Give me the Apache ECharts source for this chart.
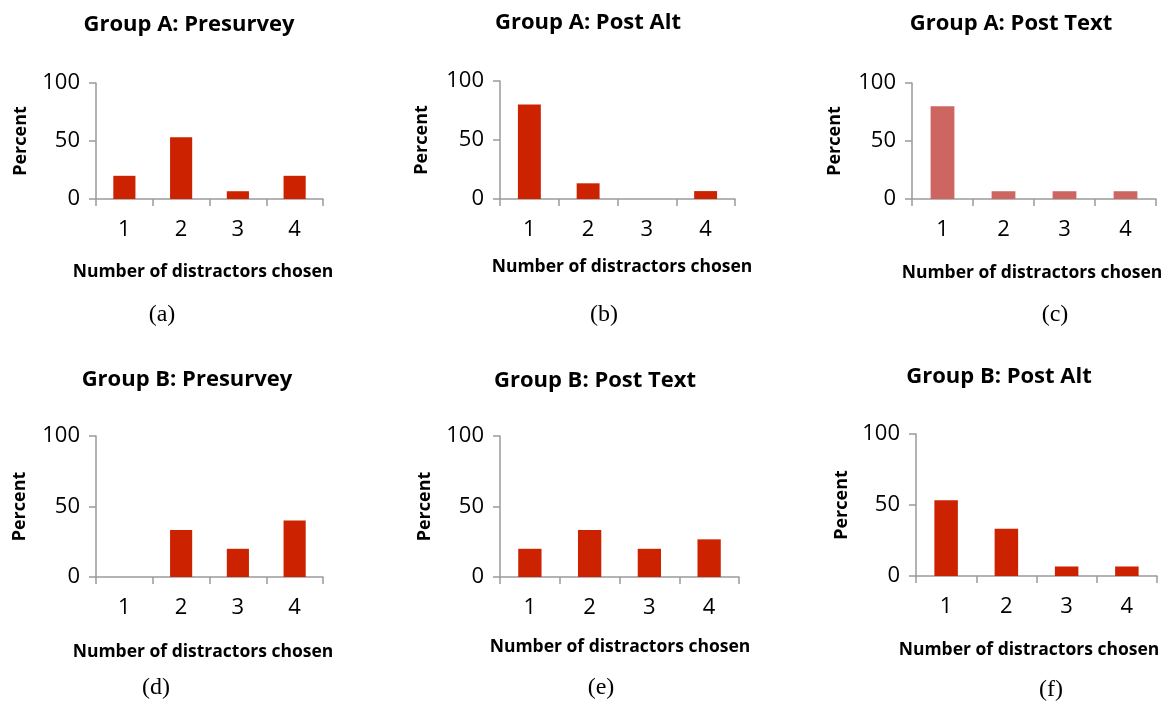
<!DOCTYPE html>
<html>
<head>
<meta charset="utf-8">
<script src="https://cdn.jsdelivr.net/npm/echarts@6/dist/echarts.min.js"></script>
<style>
html,body{margin:0;padding:0;background:#fff;}
#chart{width:1164px;height:702px;}
</style>
</head>
<body>
<div id="chart"></div>
<script>
// ---- data ----
const categories = ['1', '2', '3', '4'];
const yTicks = [0, 50, 100];
const panelTitles = ['Group A: Presurvey', 'Group A: Post Alt', 'Group A: Post Text',
                     'Group B: Presurvey', 'Group B: Post Text', 'Group B: Post Alt'];
const panelLetters = ['(a)', '(b)', '(c)', '(d)', '(e)', '(f)'];
const xAxisTitle = 'Number of distractors chosen';
const yAxisTitle = 'Percent';
const groupAPresurvey = [20, 53.3, 6.7, 20];
const groupAPostAlt   = [80, 13.3, 0, 6.7];
const groupAPostText  = [80, 6.7, 6.7, 6.7];
const groupBPresurvey = [0, 33.3, 20, 40];
const groupBPostText  = [20, 33.3, 20, 26.7];
const groupBPostAlt   = [53.3, 33.3, 6.7, 6.7];
const panelValues = [groupAPresurvey, groupAPostAlt, groupAPostText,
                     groupBPresurvey, groupBPostText, groupBPostAlt];

// ---- layout (pixels) ----
const grids = [
  {left: 96,  right: 1164 - 323,  top: 83,  bottom: 702 - 199},
  {left: 500, right: 1164 - 735,  top: 81,  bottom: 702 - 199},
  {left: 912, right: 1164 - 1156, top: 83,  bottom: 702 - 199},
  {left: 96,  right: 1164 - 323,  top: 436, bottom: 702 - 577},
  {left: 500, right: 1164 - 739,  top: 436, bottom: 702 - 577},
  {left: 916, right: 1164 - 1157, top: 434, bottom: 702 - 576}
];
const nameGaps = [66, 69, 68, 67, 66, 65];
const titlePos = [[189, 25], [588, 23], [1011, 24], [187, 380], [595, 381], [999, 377]];
const xTitlePos = [[203, 272], [622, 267], [1032, 273], [203, 652], [620, 647], [1029, 650]];
const letterPos = [[162, 315], [604, 315], [1055, 315], [156, 688], [601, 688], [1051, 690]];
const barColors = ['#CC2200', '#CC2200', '#CD6660', '#CC2200', '#CC2200', '#CC2200'];

const sansFont = '"Open Sans", "Liberation Sans", sans-serif';
const axisColor = '#9a9a9a';

const option = {
  animation: false,
  backgroundColor: '#ffffff',
  grid: grids.map(g => Object.assign({containLabel: false}, g)),
  xAxis: grids.map((g, i) => ({
    type: 'category',
    gridIndex: i,
    data: categories,
    boundaryGap: true,
    axisLine: {show: true, lineStyle: {color: axisColor, width: 1.5}},
    axisTick: {show: true, length: 7, lineStyle: {color: axisColor, width: 1.5}},
    axisLabel: {color: '#000', fontSize: 22, fontFamily: sansFont, margin: 20}
  })),
  yAxis: grids.map((g, i) => ({
    type: 'value',
    gridIndex: i,
    min: yTicks[0],
    max: yTicks[yTicks.length - 1],
    interval: yTicks[1] - yTicks[0],
    name: yAxisTitle,
    nameLocation: 'middle',
    nameRotate: 90,
    nameGap: nameGaps[i],
    nameTextStyle: {color: '#000', fontSize: 18, fontWeight: 'bold', fontFamily: sansFont},
    splitLine: {show: false},
    axisLine: {show: true, lineStyle: {color: axisColor, width: 1.5}},
    axisTick: {show: true, length: 7, lineStyle: {color: axisColor, width: 1.5}},
    axisLabel: {color: '#000', fontSize: 22, fontFamily: sansFont, margin: 16}
  })),
  series: panelValues.map((vals, i) => ({
    type: 'bar',
    xAxisIndex: i,
    yAxisIndex: i,
    data: vals,
    barWidth: '39%',
    itemStyle: {color: barColors[i]}
  })),
  graphic: [].concat(
    panelTitles.map((t, i) => ({
      type: 'text', x: titlePos[i][0], y: titlePos[i][1],
      style: {text: t, fill: '#000', font: 'bold 22px ' + sansFont, textAlign: 'center', textVerticalAlign: 'middle'}
    })),
    xTitlePos.map((p, i) => ({
      type: 'text', x: p[0], y: p[1],
      style: {text: xAxisTitle, fill: '#000', font: 'bold 17.5px ' + sansFont, textAlign: 'center', textVerticalAlign: 'middle'}
    })),
    panelLetters.map((t, i) => ({
      type: 'text', x: letterPos[i][0], y: letterPos[i][1],
      style: {text: t, fill: '#000', font: '24px "Liberation Serif", "DejaVu Serif", serif', textAlign: 'center', textVerticalAlign: 'middle'}
    }))
  )
};

const chart = echarts.init(document.getElementById('chart'), null, {renderer: 'canvas'});
chart.setOption(option);
</script>
</body>
</html>
